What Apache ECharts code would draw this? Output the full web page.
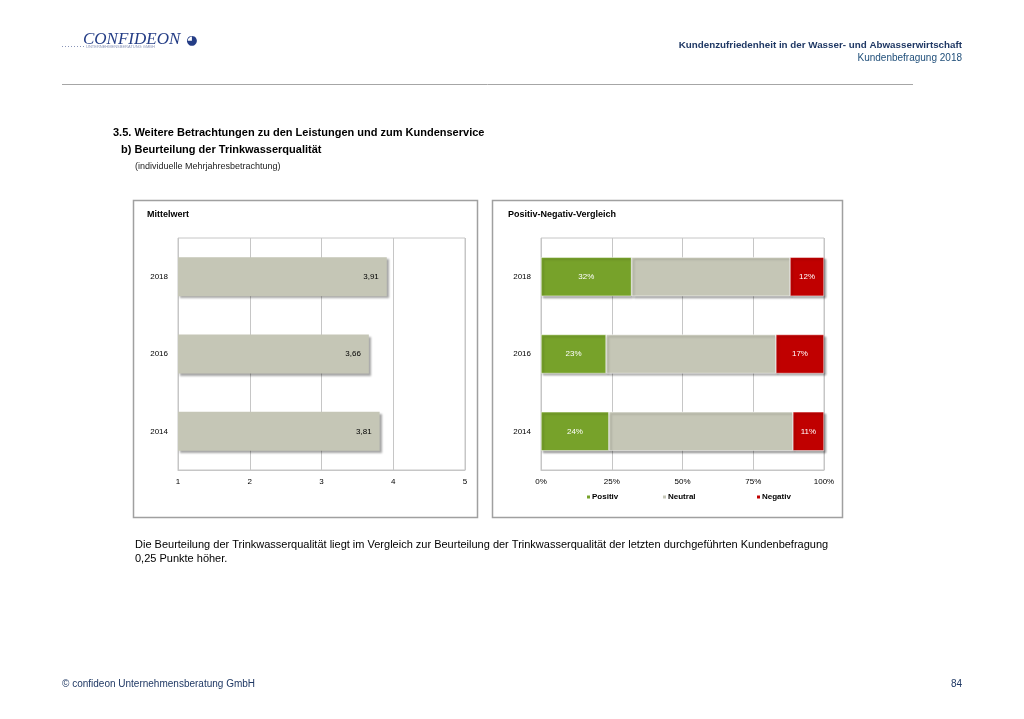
<!DOCTYPE html>
<html><head><meta charset="utf-8">
<script src="https://cdn.jsdelivr.net/npm/echarts@6/dist/echarts.min.js"></script>
<style>html,body{margin:0;padding:0;background:#fff}#c{width:1024px;height:719px}</style>
</head><body><div id="c"></div>
<script>
const years = ['2018', '2016', '2014'];
const meanValues = [3.91, 3.66, 3.81];
const meanTicks = [1, 2, 3, 4, 5];
const positiv = [32, 23, 24];
const neutral = [56, 60, 65];
const negativ = [12, 17, 11];
const seriesNames = ['Positiv', 'Neutral', 'Negativ'];

const chart = echarts.init(document.getElementById('c'), null, {renderer: 'canvas'});
const F = 'Liberation Sans, Arial, sans-serif';
const gridLine = '#c6c6c6';
const barShadow = {shadowColor: 'rgba(0,0,0,0.35)', shadowOffsetX: 2, shadowOffsetY: 2, shadowBlur: 2};

function txt(x, y, s, size, weight, fill) {
  return {type: 'text', left: x, top: y,
    style: {text: s, fontFamily: F, fontSize: size, fontWeight: weight || 'normal', fill: fill || '#000'}};
}
function legendAt(x, name) {
  return {left: x, top: 488, itemWidth: 5, itemHeight: 5, icon: 'rect', data: [name],
    textStyle: {fontFamily: F, fontSize: 8, fontWeight: 'bold', color: '#000', padding: [0, 0, 0, -4]}};
}

chart.setOption({
  animation: false,
  textStyle: {fontFamily: F},
  graphic: [
    // logo
    {type: 'text', left: 83, top: 31, style: {text: 'CONFIDEON', fontFamily: 'Liberation Serif', fontStyle: 'italic', fontSize: 17, fill: '#243d86'}},
    {type: 'text', left: 186, top: 34, style: {text: '\u25D5', fontFamily: 'DejaVu Sans', fontSize: 13, fill: '#243d86'}},
    {type: 'line', shape: {x1: 62, y1: 46.5, x2: 86, y2: 46.5}, style: {stroke: '#8a95b8', lineWidth: 1, lineDash: [1, 2]}},
    {type: 'text', left: 86, top: 45, style: {text: 'UNTERNEHMENSBERATUNG GMBH', fontFamily: F, fontSize: 4, fill: '#8a95b8'}},
    // header right
    {type: 'text', right: 62, top: 40, style: {text: 'Kundenzufriedenheit in der Wasser- und Abwasserwirtschaft', fontFamily: F, fontSize: 9.8, fontWeight: 'bold', fill: '#1f3864', textAlign: 'right'}},
    {type: 'text', right: 62, top: 53, style: {text: 'Kundenbefragung 2018', fontFamily: F, fontSize: 10, fill: '#1f4e79', textAlign: 'right'}},
    {type: 'line', shape: {x1: 62, y1: 84.5, x2: 913, y2: 84.5}, style: {stroke: '#a6a6a6', lineWidth: 1}},
    // titles
    txt(113, 127, '3.5. Weitere Betrachtungen zu den Leistungen und zum Kundenservice', 11, 'bold'),
    txt(121, 144, 'b) Beurteilung der Trinkwasserqualität', 11, 'bold'),
    txt(135, 162, '(individuelle Mehrjahresbetrachtung)', 9, 'normal', '#222'),
    // panel boxes
    {type: 'rect', shape: {x: 133.5, y: 200.5, width: 344, height: 317}, style: {fill: 'none', stroke: '#a0a0a0', lineWidth: 1.5}, z: -1},
    {type: 'rect', shape: {x: 492.5, y: 200.5, width: 350, height: 317}, style: {fill: 'none', stroke: '#a0a0a0', lineWidth: 1.5}, z: -1},
    txt(147, 210, 'Mittelwert', 9, 'bold'),
    txt(508, 210, 'Positiv-Negativ-Vergleich', 9, 'bold'),
    // body text
    txt(135, 539, 'Die Beurteilung der Trinkwasserqualität liegt im Vergleich zur Beurteilung der Trinkwasserqualität der letzten durchgeführten Kundenbefragung', 11),
    txt(135, 553, '0,25 Punkte höher.', 11),
    // footer
    txt(62, 679, '© confideon Unternehmensberatung GmbH', 10, 'normal', '#1f3864'),
    {type: 'text', right: 62, top: 679, style: {text: '84', fontFamily: F, fontSize: 10, fill: '#1f3864', textAlign: 'right'}}
  ],
  grid: [
    {left: 178, top: 238, width: 287, height: 232, show: true, borderColor: gridLine, borderWidth: 1},
    {left: 541, top: 238, width: 283, height: 232, show: true, borderColor: gridLine, borderWidth: 1}
  ],
  legend: [legendAt(580, 'Positiv'), legendAt(656, 'Neutral'), legendAt(750, 'Negativ')],
  xAxis: [
    {gridIndex: 0, type: 'value', min: 1, max: 5, interval: 1,
     axisLine: {show: true, lineStyle: {color: gridLine}}, axisTick: {show: false},
     splitLine: {show: true, lineStyle: {color: gridLine}},
     axisLabel: {fontSize: 8, color: '#000', margin: 8, formatter: v => meanTicks.includes(v) ? String(v) : ''}},
    {gridIndex: 1, type: 'value', min: 0, max: 100, interval: 25,
     axisLine: {show: true, lineStyle: {color: gridLine}}, axisTick: {show: false},
     splitLine: {show: true, lineStyle: {color: gridLine}},
     axisLabel: {fontSize: 8, color: '#000', margin: 8, formatter: '{value}%'}}
  ],
  yAxis: [
    {gridIndex: 0, type: 'category', data: years, inverse: true,
     axisLine: {show: false}, axisTick: {show: false}, axisLabel: {fontSize: 8, color: '#000', margin: 10}},
    {gridIndex: 1, type: 'category', data: years, inverse: true,
     axisLine: {show: false}, axisTick: {show: false}, axisLabel: {fontSize: 8, color: '#000', margin: 10}}
  ],
  series: [
    {type: 'bar', name: 'Mittelwert', xAxisIndex: 0, yAxisIndex: 0, data: meanValues, barWidth: 39,
     itemStyle: Object.assign({color: '#c5c6b6'}, barShadow),
     label: {show: true, position: 'insideRight', distance: 8, fontSize: 8, color: '#000',
             formatter: p => p.value.toFixed(2).replace('.', ',')}},
    {type: 'bar', name: 'Positiv', xAxisIndex: 1, yAxisIndex: 1, stack: 'pn', data: positiv, barWidth: 39,
     itemStyle: Object.assign({color: '#77a22a', borderColor: '#ffffff', borderWidth: 0.5}, barShadow),
     label: {show: true, position: 'inside', fontSize: 8, color: '#fff', formatter: '{c}%'}},
    {type: 'bar', name: 'Neutral', xAxisIndex: 1, yAxisIndex: 1, stack: 'pn', data: neutral, barWidth: 39,
     itemStyle: Object.assign({color: '#c5c6b6', borderColor: '#ffffff', borderWidth: 0.5}, barShadow),
     label: {show: false}},
    {type: 'bar', name: 'Negativ', xAxisIndex: 1, yAxisIndex: 1, stack: 'pn', data: negativ, barWidth: 39,
     itemStyle: Object.assign({color: '#c00000', borderColor: '#ffffff', borderWidth: 0.5}, barShadow),
     label: {show: true, position: 'inside', fontSize: 8, color: '#fff', formatter: '{c}%'}}
  ]
});
</script>
</body></html>
